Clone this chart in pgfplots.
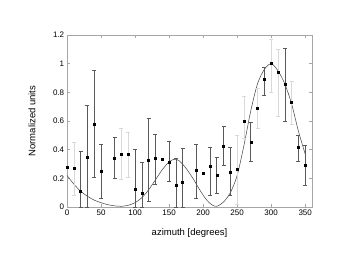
\documentclass[border=0pt]{standalone}
\usepackage{fontspec}
\setmainfont{Liberation Sans}
\usepackage{pgfplots}
\usepackage{pgfplotstable}
\pgfplotsset{compat=1.18}
\pgfplotstableread{
x y
0 0.28
10 0.27
20 0.11
30 0.35
40 0.58
50 0.25
70 0.34
80 0.37
90 0.365
100 0.125
110 0.098
120 0.33
130 0.34
140 0.335
150 0.316
160 0.153
170 0.17
190 0.255
200 0.235
210 0.286
220 0.223
230 0.425
240 0.246
250 0.263
260 0.60
270 0.45
280 0.686
290 0.895
300 1.0
310 0.94
320 0.856
330 0.73
340 0.414
350 0.295
}\pts
\pgfplotstableread{
x y em ep
20 0.11 0.11 0.28
30 0.35 0.35 0.36
40 0.58 0.37 0.376
50 0.25 0.19 0.19
70 0.34 0.14 0.15
100 0.125 0.125 0.275
110 0.098 0.098 0.212
120 0.33 0.29 0.29
130 0.34 0.18 0.17
150 0.316 0.136 0.144
160 0.153 0.153 0.187
170 0.17 0.17 0.24
190 0.255 0.195 0.185
210 0.286 0.206 0.134
220 0.223 0.128 0.127
230 0.425 0.135 0.135
240 0.246 0.166 0.174
270 0.45 0.13 0.14
290 0.895 0.115 0.08
320 0.856 0.256 0.251
340 0.414 0.094 0.086
350 0.295 0.145 0.135
}\darkerr
\pgfplotstableread{
x y em ep
10 0.27 0.185 0.18
80 0.37 0.18 0.18
90 0.365 0.155 0.155
250 0.263 0.243 0.237
260 0.60 0.12 0.17
280 0.686 0.136 0.144
300 1.0 0.2 0.17
310 0.94 0.31 0.16
330 0.73 0.15 0.15
}\lighterr
\pgfplotstableread{
x y
0 0.22
10 0.16
20 0.11
30 0.075
40 0.048
50 0.03
60 0.016
70 0.008
80 0.005
90 0.012
100 0.03
110 0.065
120 0.12
130 0.19
140 0.26
150 0.315
158 0.333
165 0.322
175 0.27
185 0.2
195 0.12
205 0.05
213 0.015
220 0.005
230 0.035
240 0.1
250 0.22
260 0.43
270 0.67
280 0.86
290 0.96
300 1.0
310 0.95
320 0.86
330 0.72
340 0.53
350 0.37
}\curve
\begin{document}
\fontsize{8}{9}\selectfont
\begin{tikzpicture}
\path[use as bounding box] (-67pt,-56pt) rectangle (273pt,207pt);
\begin{axis}[
  at={(0,0)}, anchor=south west,
  scale only axis, width=245pt, height=172pt,
  xmin=0, xmax=360, ymin=0, ymax=1.2,
  xtick={0,50,...,350}, ytick={0,0.2,...,1.2},
  yticklabels={0,0.2,0.4,0.6,0.8,1,1.2},
  tick align=inside, major tick length=3pt,
  axis line style={gray!70, line width=0.5pt},
  tick style={gray!70, line width=0.5pt},
  /pgf/number format/assume math mode=true,
  tick label style={font=\fontsize{8}{9}\selectfont},
  label style={font=\fontsize{9.5}{11}\selectfont},
  xlabel={azimuth [degrees]},
  ylabel={Normalized units},
  xlabel style={at={(axis description cs:0.5,-0.151)}, anchor=center},
  ylabel style={at={(axis description cs:-0.143,0.5)}, anchor=center},
  clip=false,
]
\addplot[black!75, line width=0.5pt, smooth, tension=0.5] table[x=x,y=y]{\curve};
\addplot[draw=none, mark=none,
  error bars/.cd, y dir=both, y explicit, error mark=|, error mark options={gray!30, mark size=2pt, line width=0.6pt},
  error bar style={gray!30, line width=0.6pt}]
  table[x=x, y=y, y error plus=ep, y error minus=em]{\lighterr};
\addplot[draw=none, mark=none,
  error bars/.cd, y dir=both, y explicit, error mark=|, error mark options={black!65, mark size=2pt, line width=0.5pt},
  error bar style={black!65, line width=0.5pt}]
  table[x=x, y=y, y error plus=ep, y error minus=em]{\darkerr};
\addplot[only marks, mark=square*, mark size=1pt, black] table[x=x,y=y]{\pts};
\end{axis}
\end{tikzpicture}
\end{document}
